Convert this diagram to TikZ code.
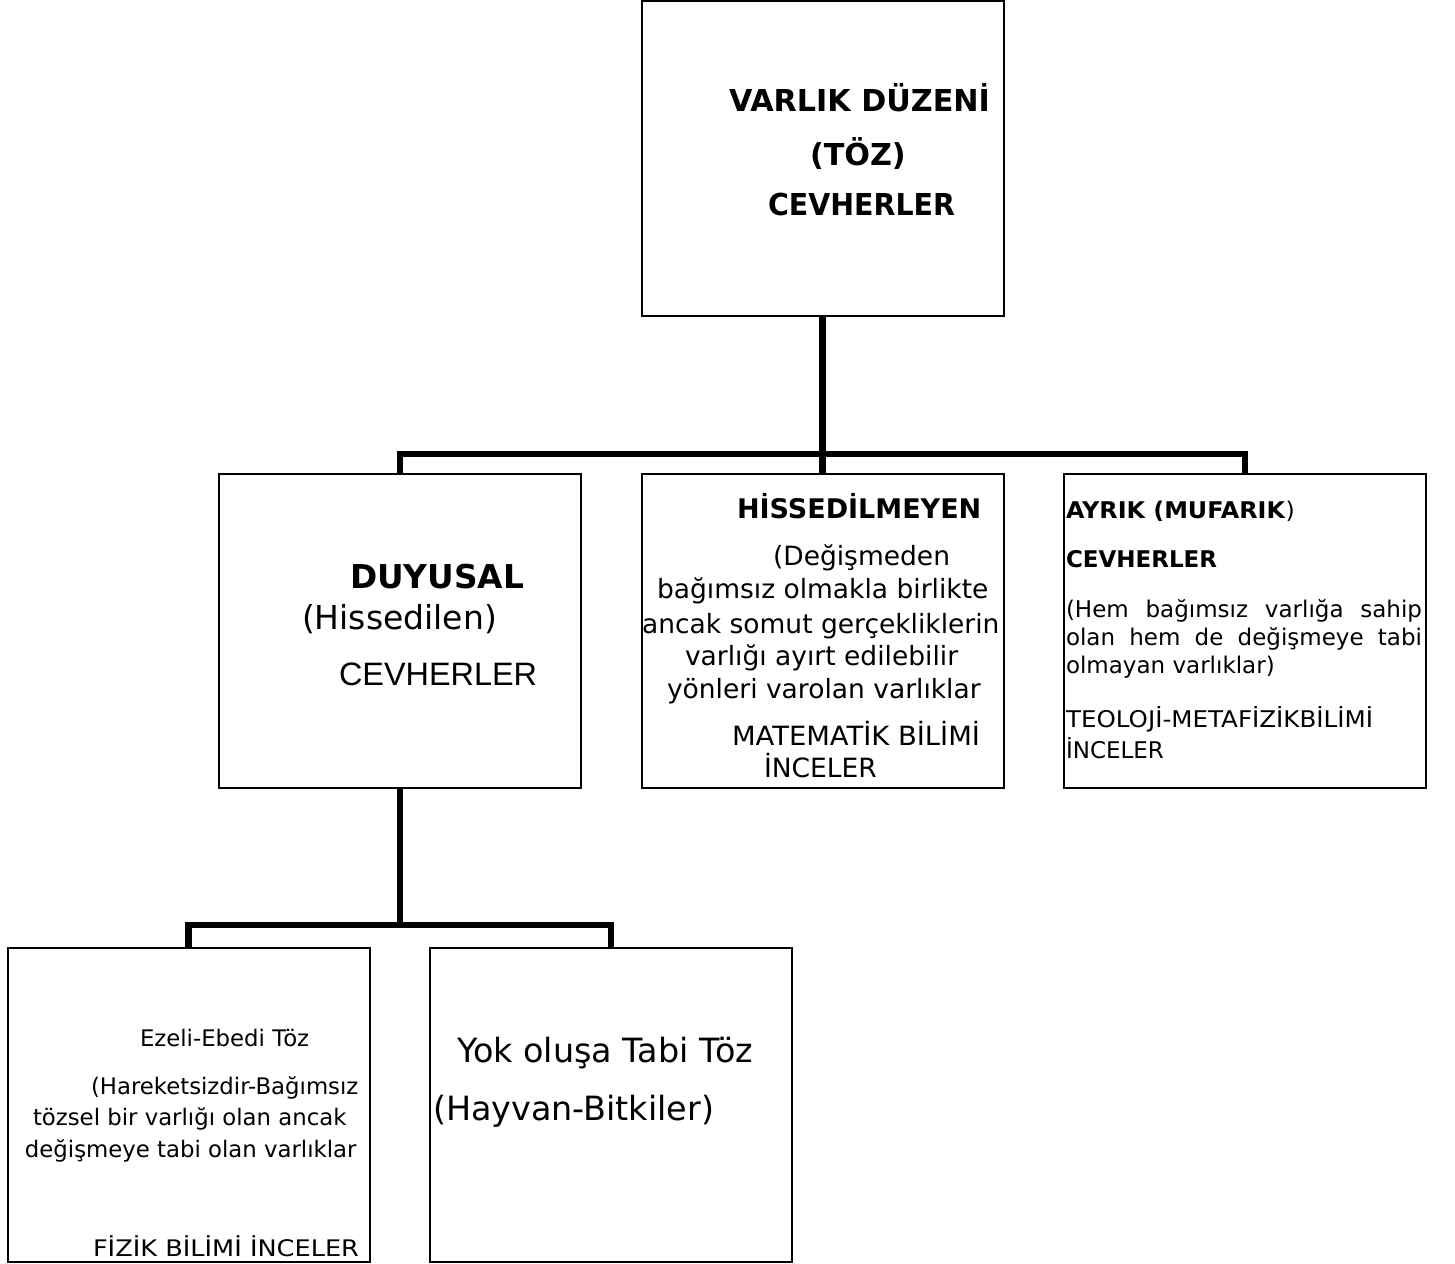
\documentclass[tikz,border=0pt]{standalone}
\usepackage{fontspec}
\setmainfont{DejaVu Sans}
\newfontfamily\arialfont{Liberation Sans}
\usetikzlibrary{positioning}
% stretch a line to the width it has in the reference
\newcommand{\fitw}[2]{\resizebox{#1}{\height}{#2}}

\begin{document}
\begin{tikzpicture}[
  x=0.5pt, y=-0.5pt,
  box/.style={rectangle, draw, line width=1pt, minimum width=181pt, minimum height=157pt, inner sep=0pt, outer sep=0pt},
  txt/.style={anchor=base west, inner sep=0pt, outer sep=0pt},
  link/.style={line width=3.3pt, line join=miter}
]
\useasboundingbox (0,0) rectangle (1455,1263);

% boxes
\node[box] (top) at (822.5,158.5) {};
\node[box] (duy) at (400,631) {};
\node[box] (hiss) at (822.5,631) {};
\node[box] (ayr) at (1245,631) {};
\node[box] (ezeli) at (188.5,1104.5) {};
\node[box] (yok) at (611,1104.5) {};

% connectors
\coordinate (bus1) at (822.5,454);
\coordinate (bus2) at (400,925);
\draw[link] (top.south) -- (hiss.north);
\draw[link] (duy.north) |- (bus1) -| (ayr.north);
\draw[link] (duy.south) -- (bus2);
\draw[link] (ezeli.north) |- (bus2) -| (yok.north);

% top box
\foreach \x/\y/\t [count=\i] in {729/112/{VARLIK DÜZENİ}, 810/165/{(TÖZ)}, 768/215/{\fitw{93.5pt}{CEVHERLER}}}
  \node[txt, font=\fontsize{15.1pt}{18pt}\selectfont\bfseries] (top-\i) at (\x,\y) {\t};

% duyusal
\node[txt, font=\fontsize{16.4pt}{20pt}\selectfont\bfseries] (duy-1) at (350,588) {DUYUSAL};
\node[txt, font=\fontsize{16.5pt}{20pt}\selectfont] (duy-2) at (302,629) {(Hissedilen)};
\node[txt, font=\fontsize{16.2pt}{20pt}\selectfont\arialfont] (duy-3) at (339,685) {CEVHERLER};

% hissedilmeyen
\node[txt, font=\fontsize{13.5pt}{16pt}\selectfont\bfseries] (hiss-0) at (737,518) {HİSSEDİLMEYEN};
\foreach \x/\y/\t [count=\i] in {773/565/{(Değişmeden}, 657/598/{bağımsız olmakla birlikte},
    642/633/{ancak somut gerçekliklerin}, 685/665/{varlığı ayırt edilebilir},
    667/698/{yönleri varolan varlıklar}, 732/745/{\fitw{124pt}{MATEMATİK BİLİMİ}}, 764/777/{İNCELER}}
  \node[txt, font=\fontsize{13.25pt}{16pt}\selectfont] (hiss-\i) at (\x,\y) {\t};

% ayrik
\node[txt, font=\fontsize{11.5pt}{14pt}\selectfont] (ayr-1) at (1066,518) {\fitw{114.5pt}{\textbf{AYRIK (MUFARIK})}};
\node[txt, font=\fontsize{11.5pt}{14pt}\selectfont\bfseries] (ayr-2) at (1066,567) {CEVHERLER};
\node[txt, font=\fontsize{11.5pt}{14pt}\selectfont] (ayr-3) at (1066,617) {\makebox[178pt][s]{(Hem bağımsız varlığa sahip}};
\node[txt, font=\fontsize{11.5pt}{14pt}\selectfont] (ayr-4) at (1066,645) {\makebox[178pt][s]{olan hem de değişmeye tabi}};
\foreach \x/\y/\t [count=\i from 5] in {1066/673/{olmayan varlıklar)}, 1066/727/{\fitw{153.5pt}{TEOLOJİ-METAFİZİKBİLİMİ}}, 1066/758/{İNCELER}}
  \node[txt, font=\fontsize{11.5pt}{14pt}\selectfont] (ayr-\i) at (\x,\y) {\t};

% ezeli-ebedi
\foreach \x/\y/\t [count=\i] in {140/1046/{Ezeli-Ebedi Töz}, 91/1094/{(Hareketsizdir-Bağımsız},
    33/1125/{tözsel bir varlığı olan ancak}, 25/1157/{değişmeye tabi olan varlıklar},
    93/1256/{\fitw{133pt}{FİZİK BİLİMİ İNCELER}}}
  \node[txt, font=\fontsize{11.4pt}{14pt}\selectfont] (ezeli-\i) at (\x,\y) {\t};

% yok olusa
\node[txt, font=\fontsize{16.7pt}{20pt}\selectfont] (yok-1) at (457,1062) {Yok oluşa Tabi Töz};
\node[txt, font=\fontsize{16.7pt}{20pt}\selectfont] (yok-2) at (433,1120) {(Hayvan-Bitkiler)};
\end{tikzpicture}
\end{document}
